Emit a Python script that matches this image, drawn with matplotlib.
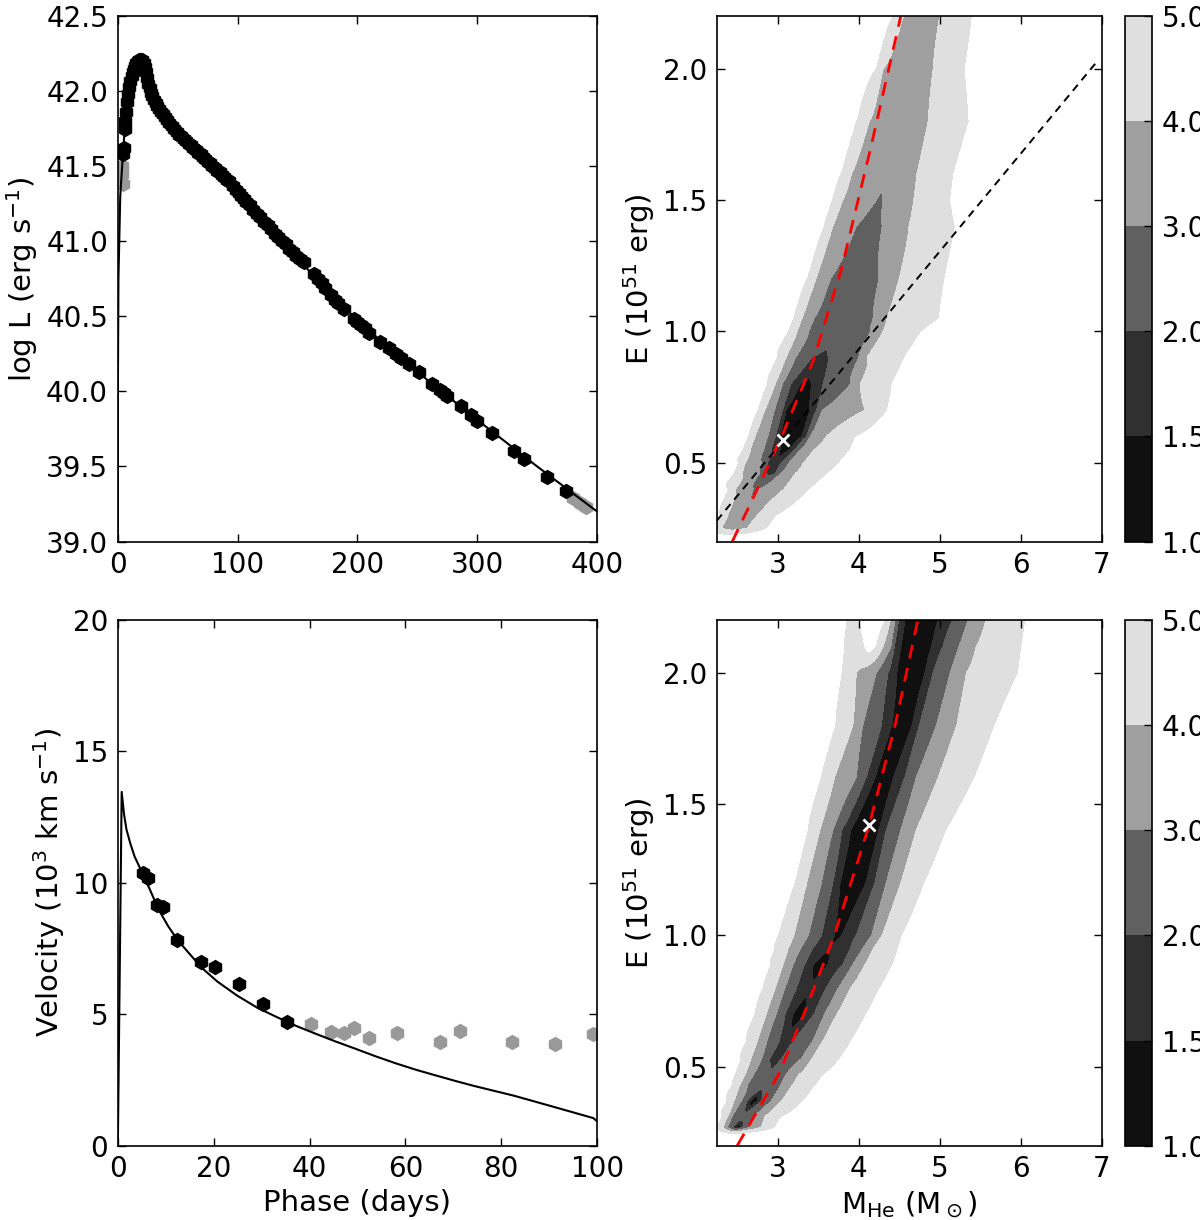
import numpy as np
import matplotlib
matplotlib.use("Agg")
import matplotlib.pyplot as plt

n = np.nan

# ---- light curve (top left) ----
lc_day = [4.5, 5.0, 5.8, 6.3, 7.0, 7.8, 8.6, 9.5, 10.5, 11.5, 12.5, 13.5, 14.5, 15.5, 16.5,
          17.5, 18.5, 19.5, 20.5, 21.5, 22.5, 23.5, 24.5, 25.5, 26.5, 27.5, 28.5, 30, 31.5,
          33, 34.5, 36, 37.5, 39, 41, 43, 45, 47, 49, 51, 53, 55, 57, 59, 61, 63, 65, 67,
          69, 71, 73, 75, 77, 79, 81, 83, 85, 87, 89, 91, 93, 96, 99, 101, 103, 105, 107,
          110, 113, 116, 119, 122, 125, 128, 131, 134, 137, 140, 143, 146, 149, 152, 155,
          164, 167, 170, 173, 178, 181, 184, 189, 197, 200, 203, 206, 210, 219, 226, 232,
          236, 243, 251, 262, 269, 272, 275, 286, 295, 300, 312, 331, 339, 358, 374]
lc_logL = [41.58, 41.62, 41.75, 41.80, 41.86, 41.93, 41.98, 42.03, 42.07, 42.10, 42.13, 42.15,
           42.17, 42.19, 42.20, 42.21, 42.21, 42.21, 42.21, 42.19, 42.16, 42.13, 42.09, 42.05,
           42.02, 41.99, 41.97, 41.94, 41.92, 41.90, 41.88, 41.86, 41.85, 41.83, 41.81, 41.79,
           41.77, 41.75, 41.73, 41.71, 41.70, 41.68, 41.67, 41.65, 41.64, 41.62, 41.61, 41.59,
           41.58, 41.56, 41.55, 41.53, 41.52, 41.50, 41.49, 41.47, 41.46, 41.44, 41.43, 41.41,
           41.40, 41.37, 41.34, 41.32, 41.30, 41.28, 41.26, 41.24, 41.21, 41.18, 41.16, 41.13,
           41.11, 41.08, 41.05, 41.03, 41.00, 40.98, 40.95, 40.93, 40.90, 40.88, 40.86,
           40.78, 40.75, 40.72, 40.69, 40.64, 40.61, 40.59, 40.55, 40.48, 40.46, 40.44, 40.42,
           40.39, 40.33, 40.29, 40.25, 40.22, 40.18, 40.13, 40.05, 40.01, 39.99, 39.97, 39.90,
           39.84, 39.80, 39.72, 39.60, 39.55, 39.43, 39.34]
lc_gray_day = [3.2, 3.8, 4.3, 380, 386, 391]
lc_gray_logL = [41.50, 41.45, 41.38, 39.29, 39.26, 39.23]
lc_model_day = [0, 0.1, 0.5, 2, 4, 6, 8, 10, 13, 16, 19, 21, 24, 27, 30, 35, 45, 60, 80, 100,
                130, 160, 200, 250, 300, 350, 400]
lc_model_logL = [39.0, 40.1, 40.75, 41.3, 41.55, 41.78, 41.95, 42.05, 42.14, 42.19, 42.21,
                 42.20, 42.12, 42.02, 41.95, 41.88, 41.78, 41.65, 41.50, 41.33, 41.06, 40.80,
                 40.47, 40.13, 39.81, 39.50, 39.20]

# ---- velocities (bottom left) ----
vel_day = [5.3, 6.35, 8.2, 9.4, 12.3, 17.3, 20.2, 25.3, 30.3, 35.2]
vel = [10.38, 10.18, 9.17, 9.10, 7.82, 6.99, 6.80, 6.17, 5.38, 4.69]
vel_gray_day = [40.3, 44.4, 47.2, 49.3, 52.3, 58.3, 67.3, 71.3, 82.3, 91.3, 99.2]
vel_gray = [4.63, 4.32, 4.29, 4.48, 4.09, 4.27, 3.96, 4.36, 3.96, 3.88, 4.26]
vel_model_day = [0, 0.8, 1.3, 1.8, 2.6, 3.5, 5.1, 6.8, 8.4, 10.5, 12.5, 15.0, 17.5, 20.8, 24.9,
                 29.0, 33.2, 37.3, 41.4, 45.5, 49.7, 53.8, 57.9, 62.0, 66.2, 70.3, 74.4, 82.7,
                 90.9, 99.2, 100]
vel_model = [0, 13.46, 12.6, 12.03, 11.5, 11.0, 10.38, 9.70, 9.02, 8.35, 7.82, 7.29, 6.77, 6.24,
             5.71, 5.26, 4.89, 4.55, 4.25, 3.96, 3.68, 3.40, 3.14, 2.90, 2.68, 2.47, 2.27,
             1.90, 1.48, 1.05, 0.93]

# ---- chi2 maps: band edges (M_He) read per energy row ----
levels = [1.0, 1.5, 2.0, 3.0, 4.0, 5.0]
fill_colors = ['#101010', '#303030', '#606060', '#9f9f9f', '#dfdfdf']

top_E = [0.21, 0.25, 0.30, 0.40, 0.46, 0.50, 0.55, 0.60, 0.70, 0.80, 0.90, 1.00, 1.05, 1.20,
         1.40, 1.50, 1.60, 1.80, 2.00, 2.20]
top_centre = [2.40, 2.45, 2.55, 2.73, 2.92, 2.96, 3.08, 3.15, 3.25, 3.35, 3.53, 3.75, 3.82,
              3.95, 4.13, 4.26, 4.33, 4.50, 4.62, 4.78]
top_vmin = [6, 3.6, 3.3, 2.8, 1.8, 1.6, 1.3, 1.05, 1.15, 1.4, 1.85, 2.3, 2.35, 2.5, 2.7, 2.9,
            3.2, 3.4, 3.5, 3.6]
top_left = {
    5: [n, 2.27, 2.30, 2.40, 2.47, 2.52, 2.58, 2.64, 2.76, 2.88, 3.00, 3.14, 3.20, 3.37, 3.58,
        3.68, 3.79, 3.98, 4.22, 4.43],
    4: [n, 2.30, 2.38, 2.48, 2.56, 2.60, 2.66, 2.72, 2.84, 2.97, 3.10, 3.24, 3.30, 3.47, 3.68,
        3.80, 3.91, 4.13, 4.30, 4.55],
    3: [n, n, n, 2.70, 2.78, 2.80, 2.83, 2.88, 2.96, 3.06, 3.22, 3.38, 3.45, 3.65, 3.97, 4.22,
        n, n, n, n],
    2: [n, n, n, n, 2.86, 2.87, 2.92, 2.97, 3.06, 3.16, 3.42, n, n, n, n, n, n, n, n, n],
    1.5: [n, n, n, n, n, n, 3.03, 3.02, 3.10, 3.28, n, n, n, n, n, n, n, n, n, n],
}
top_right = {
    1.5: [n, n, n, n, n, n, 3.15, 3.30, 3.40, 3.42, n, n, n, n, n, n, n, n, n, n],
    2: [n, n, n, n, 2.98, 3.05, 3.22, 3.36, 3.48, 3.56, 3.63, n, n, n, n, n, n, n, n, n],
    3: [n, n, n, 2.76, 3.04, 3.14, 3.28, 3.40, 3.55, 3.90, 4.00, 4.15, 4.18, 4.25, 4.29, 4.30,
        n, n, n, n],
    4: [n, 2.62, 2.75, 3.08, 3.22, 3.32, 3.45, 3.60, 4.08, 4.02, 4.10, 4.30, 4.35, 4.50, 4.62,
        4.68, 4.72, 4.86, 4.92, 5.00],
    5: [n, 2.85, 2.97, 3.38, 3.60, 3.74, 3.88, 3.95, 4.34, 4.40, 4.55, 4.76, 4.98, 5.05, 5.18,
        5.12, 5.16, 5.35, 5.30, 5.39],
}

bot_E = [0.24, 0.27, 0.31, 0.37, 0.43, 0.47, 0.53, 0.60, 0.70, 0.80, 0.89, 0.95, 1.00, 1.20,
         1.40, 1.60, 1.80, 2.00, 2.10, 2.20]
bot_centre = [2.45, 2.50, 2.57, 2.70, 2.83, 2.90, 2.97, 3.10, 3.26, 3.40, 3.53, 3.64, 3.74,
              3.93, 4.10, 4.32, 4.53, 4.65, 4.70, 4.76]
bot_vmin = [6, 1.1, 2.3, 1.05, 2.3, 2.2, 1.6, 1.85, 1.05, 1.7, 1.05, 1.6, 1.3, 1.1, 1.02, 1.1,
            1.1, 1.1, 1.1, 1.1]
bot_left = {
    5: [n, 2.27, 2.32, 2.38, 2.44, 2.48, 2.55, 2.62, 2.72, 2.82, 2.92, 2.97, 3.01, 3.22, 3.38,
        3.54, 3.72, 3.80, 3.83, 3.86],
    4: [n, 2.32, 2.38, 2.46, 2.53, 2.60, 2.67, 2.75, 2.86, 2.97, 3.07, 3.13, 3.20, 3.36, 3.52,
        3.70, 3.93, 3.97, 4.30, 4.39],
    3: [n, 2.38, 2.43, 2.55, 2.62, 2.70, 2.80, 2.87, 2.98, 3.09, 3.19, 3.28, 3.38, 3.54, 3.68,
        3.97, 4.05, 4.22, 4.40, 4.45],
    2: [n, 2.44, n, 2.62, n, n, 2.90, 3.02, 3.09, 3.23, 3.33, 3.43, 3.54, 3.68, 3.79, 4.09,
        4.28, 4.36, 4.44, 4.49],
    1.5: [n, 2.47, n, 2.66, n, n, n, n, 3.19, n, 3.44, n, 3.70, 3.77, 3.90, 4.20, 4.41, 4.47,
          4.52, 4.57],
}
bot_right = {
    1.5: [n, 2.54, n, 2.75, n, n, n, n, 3.33, n, 3.62, n, 3.79, 4.09, 4.25, 4.43, 4.66, 4.82,
          4.90, 4.98],
    2: [n, 2.57, n, 2.80, n, n, 3.05, 3.20, 3.45, 3.60, 3.81, 3.90, 3.97, 4.20, 4.34, 4.57,
        4.75, 4.92, 5.04, 5.16],
    3: [n, 2.66, 2.70, 2.92, 3.04, 3.10, 3.29, 3.44, 3.58, 3.75, 3.93, 4.05, 4.16, 4.34, 4.52,
        4.71, 4.96, 5.13, 5.24, 5.35],
    4: [n, 2.80, 2.84, 3.05, 3.18, 3.26, 3.42, 3.56, 3.73, 3.90, 4.08, 4.18, 4.29, 4.52, 4.71,
        4.98, 5.21, 5.33, 5.45, 5.57],
    5: [n, 2.95, 3.03, 3.30, 3.45, 3.55, 3.75, 3.90, 4.08, 4.25, 4.41, 4.47, 4.52, 4.80, 5.07,
        5.42, 5.67, 5.96, 6.00, 6.05],
}
# white hole inside the outer band near the top (row index -> (left, right))
bot_pocket = {18: (4.06, 4.22), 19: (4.00, 4.34)}

# model relations and best fits
top_red_M = [2.44, 2.75, 3.05, 3.43, 3.79, 4.15, 4.52]
top_red_E = [0.20, 0.40, 0.60, 0.88, 1.24, 1.70, 2.20]
top_black_M = [2.25, 6.95]
top_black_E = [0.28, 2.03]
top_best = (3.06, 0.585)
bot_red_M = [2.50, 3.01, 3.35, 3.70, 4.13, 4.45, 4.73]
bot_red_E = [0.20, 0.47, 0.72, 1.00, 1.42, 1.80, 2.20]
bot_best = (4.13, 1.42)


def build_field(E_rows, centre, vmin, left, right, pocket=None):
    u = np.linspace(-4, 4, 1601)
    profiles = []
    for i in range(len(E_rows)):
        pts = []
        for lev in (5, 4, 3, 2, 1.5):
            if not np.isnan(left[lev][i]):
                pts.append((left[lev][i], lev))
                if lev == 5 and pocket and i in pocket:
                    pl, pr = pocket[i]
                    pts.append(((left[5][i] + pl) / 2, 4.6))
                    pts.append((pl, 5.0))
                    pts.append(((pl + pr) / 2, 5.6))
                    pts.append((pr, 5.0))
        pts.append((centre[i], vmin[i]))
        for lev in (1.5, 2, 3, 4, 5):
            if not np.isnan(right[lev][i]):
                pts.append((right[lev][i], lev))
        xs = [p[0] - centre[i] for p in pts]
        vs = [p[1] for p in pts]
        xs = [xs[0] - 0.8] + xs + [xs[-1] + 0.8]
        vs = [6.5] + vs + [6.5]
        profiles.append(np.interp(u, xs, vs, left=6.5, right=6.5))
    profiles = np.array(profiles)

    Mg = np.linspace(2.25, 7.0, 500)
    Eg = np.linspace(0.2, 2.2, 700)
    Z = np.empty((len(Eg), len(Mg)))
    cg = np.interp(Eg, E_rows, centre)
    for j, e in enumerate(Eg):
        k = int(np.clip(np.searchsorted(E_rows, e), 1, len(E_rows) - 1))
        w = np.clip((e - E_rows[k - 1]) / (E_rows[k] - E_rows[k - 1]), 0, 1)
        prof = (1 - w) * profiles[k - 1] + w * profiles[k]
        Z[j] = np.interp(Mg - cg[j], u, prof)
    return Mg, Eg, Z


fs = 20
fs_lab = 21
fig = plt.figure(figsize=(12, 12.2), dpi=100)


def style(ax):
    ax.tick_params(direction='in', top=True, right=True, labelsize=fs, length=6, width=1,
                   pad=7)
    for s in ax.spines.values():
        s.set_linewidth(1.2)


# top left: bolometric light curve
ax = fig.add_axes([0.0982, 0.5561, 0.3994, 0.4307])
ax.plot(lc_gray_day, lc_gray_logL, 'h', color='#999999', mec='#999999', ms=10)
ax.plot(lc_day, lc_logL, 'h', color='k', mec='k', ms=10)
ax.plot(lc_model_day, lc_model_logL, '-', color='k', lw=1.5)
ax.set_xlim(0, 400)
ax.set_ylim(39.0, 42.5)
ax.set_xticks([0, 100, 200, 300, 400])
ax.set_yticks(np.arange(39.0, 42.51, 0.5))
ax.yaxis.set_major_formatter(matplotlib.ticker.FormatStrFormatter('%.1f'))
ax.set_ylabel('log L (erg s$^{-1}$)', fontsize=fs_lab)
style(ax)

# bottom left: photospheric velocity
ax = fig.add_axes([0.0982, 0.0609, 0.3994, 0.4309])
ax.plot(vel_gray_day, vel_gray, 'h', color='#999999', mec='#999999', ms=10)
ax.plot(vel_day, vel, 'h', color='k', mec='k', ms=10)
ax.plot(vel_model_day, vel_model, '-', color='k', lw=1.5)
ax.set_xlim(0, 100)
ax.set_ylim(0, 20)
ax.set_xticks([0, 20, 40, 60, 80, 100])
ax.set_yticks([0, 5, 10, 15, 20])
ax.set_xlabel('Phase (days)', fontsize=fs_lab)
ax.set_ylabel('Velocity (10$^3$ km s$^{-1}$)', fontsize=fs_lab)
style(ax)


def chi_panel(rect, crect, field, red_M, red_E, best, black=None, xlabel=None):
    Mg, Eg, Z = field
    ax = fig.add_axes(rect)
    cs = ax.contourf(Mg, Eg, Z, levels=levels, colors=fill_colors)
    ax.plot(red_M, red_E, color='red', lw=2, linestyle=(0, (5, 3.5)))
    if black is not None:
        ax.plot(black[0], black[1], color='k', lw=1.4, linestyle=(0, (4, 3)))
    ax.plot(best[0], best[1], 'x', color='white', ms=9, mew=2)
    ax.set_xlim(2.25, 7.0)
    ax.set_ylim(0.2, 2.2)
    ax.set_xticks([3, 4, 5, 6, 7])
    ax.set_yticks([0.5, 1.0, 1.5, 2.0])
    ax.yaxis.set_major_formatter(matplotlib.ticker.FormatStrFormatter('%.1f'))
    ax.set_ylabel('E (10$^{51}$ erg)', fontsize=fs_lab)
    if xlabel:
        ax.set_xlabel(xlabel, fontsize=fs_lab)
    style(ax)
    cax = fig.add_axes(crect)
    cb = fig.colorbar(cs, cax=cax, ticks=levels)
    cb.ax.yaxis.set_major_formatter(matplotlib.ticker.FormatStrFormatter('%.1f'))
    cb.ax.tick_params(direction='in', labelsize=fs, length=6, width=1, pad=7)
    cb.outline.set_linewidth(1.2)


chi_panel([0.5974, 0.5561, 0.3207, 0.4307], [0.9375, 0.5561, 0.0225, 0.4307],
          build_field(top_E, top_centre, top_vmin, top_left, top_right),
          top_red_M, top_red_E, top_best, black=(top_black_M, top_black_E))
chi_panel([0.5974, 0.0609, 0.3207, 0.4309], [0.9375, 0.0609, 0.0225, 0.4309],
          build_field(bot_E, bot_centre, bot_vmin, bot_left, bot_right, bot_pocket),
          bot_red_M, bot_red_E, bot_best,
          xlabel=r'M$_{\mathrm{He}}$ (M$_\odot$)')

fig.savefig('out.png', dpi=100)
